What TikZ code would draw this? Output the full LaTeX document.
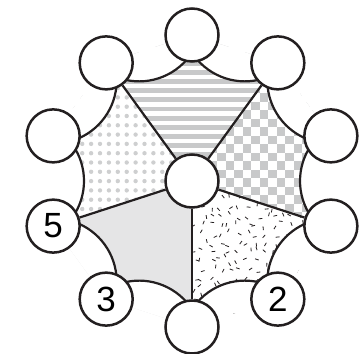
\documentclass[tikz,border=0pt]{standalone}
\usepackage{fontspec}
\setmainfont{Liberation Sans}
\usetikzlibrary{calc,backgrounds}
\definecolor{ink}{RGB}{35,31,32}
\definecolor{stripegray}{RGB}{200,201,202}
\definecolor{checkgray}{RGB}{200,201,202}
\definecolor{dotgray}{RGB}{206,207,208}
\definecolor{solidgray}{RGB}{229,229,230}
\begin{document}
\begin{tikzpicture}[x=1pt,y=1pt,
  ring/.style={circle, draw=ink, line width=2.5pt, fill=white, minimum size=53pt, inner sep=0pt, font=\fontsize{35}{35}\selectfont},
  spoke/.style={draw=ink, line width=2.2pt},
  scallop/.style={draw=ink, line width=2.2pt},
  dash mark/.style={draw=ink, line width=0.8pt}]
\useasboundingbox (0,0) rectangle (363,353);
\coordinate (O) at (192,172);
\node[ring] (c) at (O) {};
\foreach \a/\n/\t in {90/t/, 126/tl/, 162/l/, 198/f/5, 234/th/3, 270/b/, 306/tw/2, 342/rl/, 18/r/, 54/tr/}
  \node[ring] (\n) at ($(O)+(\a:146)$) {\t};
\draw[spoke] (c) -- (tl);
\draw[spoke] (c) -- (tr);
\draw[spoke] (c) -- (rl);
\draw[spoke] (c) -- (b);
\draw[spoke] (c) -- (f);
\begin{scope}[on background layer]
  % top sector: stripes
  \begin{scope}
    \clip (O) -- (tr.center) -- (t.center) -- (tl.center) -- cycle;
    \foreach \k in {-3,...,14}
      \fill[stripegray] (100,{289.7-\k*9.15-2.4}) rectangle (290,{289.7-\k*9.15+2.4});
    \fill[white] ($(O)+(72:171.1)$) circle[radius=63.1] ($(O)+(108:171.1)$) circle[radius=63.1];
  \end{scope}
  % right sector: checkerboard
  \begin{scope}
    \clip (O) -- (rl.center) -- (r.center) -- (tr.center) -- cycle;
    \foreach \j in {-16,...,5} {
      \pgfmathtruncatemacro\off{mod(\j+16,2)}
      \foreach \i in {-1,...,8}
        \fill[checkgray] ({200.4+(2*\i+\off)*8.5},{259.7+\j*8.5}) rectangle ++(8.5,8.5);
    }
    \fill[white] ($(O)+(0:171.1)$) circle[radius=63.1] ($(O)+(36:171.1)$) circle[radius=63.1];
  \end{scope}
  % lower right sector: random dashes
  \begin{scope}
    \clip (O) -- (b.center) -- (tw.center) -- (rl.center) -- cycle;
    \pgfmathsetseed{7}
    \foreach \i in {0,...,17} {
      \foreach \j in {0,...,18} {
        \pgfmathsetmacro\xx{185+\i*9+rand*4}
        \pgfmathsetmacro\yy{20+\j*9+rand*4}
        \pgfmathsetmacro\aa{rnd*180}
        \draw[dash mark] ($(\xx,\yy)+(\aa:1.9)$) -- ($(\xx,\yy)+({\aa+180}:1.9)$);
      }
    }
    \fill[white] ($(O)+(288:171.1)$) circle[radius=63.1] ($(O)+(324:171.1)$) circle[radius=63.1];
  \end{scope}
  % lower left sector: solid gray
  \begin{scope}
    \clip (O) -- (f.center) -- (th.center) -- (b.center) -- cycle;
    \fill[solidgray] (0,0) rectangle (363,353);
    \fill[white] ($(O)+(216:171.1)$) circle[radius=63.1] ($(O)+(252:171.1)$) circle[radius=63.1];
  \end{scope}
  % upper left sector: dots
  \begin{scope}
    \clip (O) -- (tl.center) -- (l.center) -- (f.center) -- cycle;
    \foreach \i in {-10,...,8}
      \foreach \j in {-5,...,13}
        \fill[dotgray] ({126.7+8.9*\i},{246.3-9.3*\j}) circle[radius=2.2];
    \fill[white] ($(O)+(144:171.1)$) circle[radius=63.1] ($(O)+(180:171.1)$) circle[radius=63.1];
  \end{scope}
  % scalloped outline
  \foreach \m in {0,36,...,324}
    \draw[scallop] ($(O)+(\m:171.1)+({\m+145}:63.1)$) arc[start angle={\m+145}, end angle={\m+215}, radius=63.1];
\end{scope}
\end{tikzpicture}
\end{document}
